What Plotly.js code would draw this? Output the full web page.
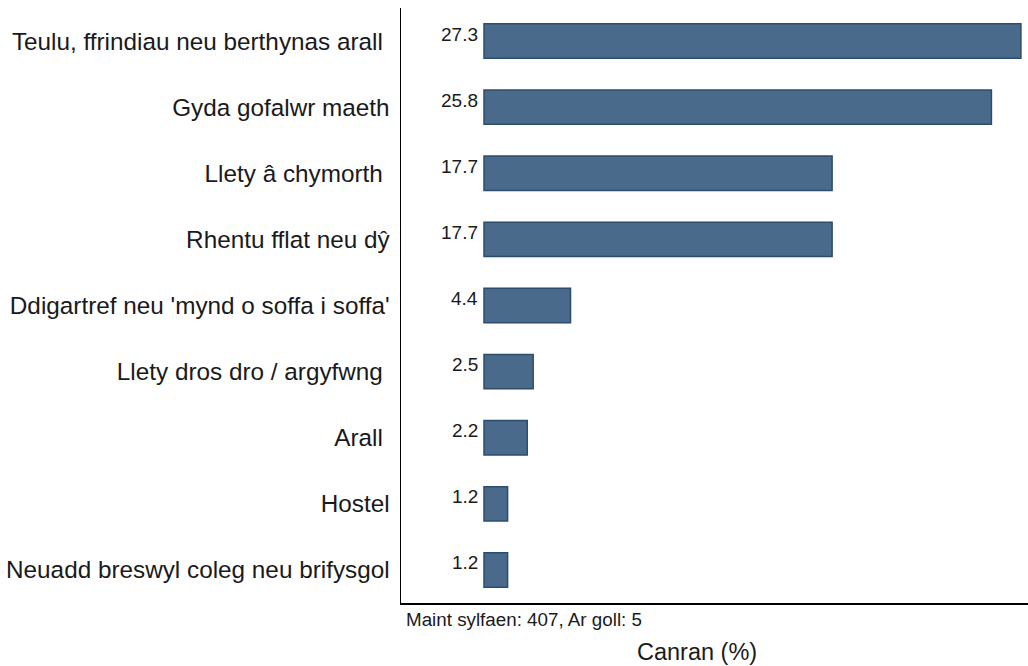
<!DOCTYPE html>
<html>
<head>
<meta charset="utf-8">
<script src="https://cdn.plot.ly/plotly-3.0.1.min.js"></script>
<style>html,body{margin:0;padding:0;background:#fff;}#chart{width:1028px;height:666px;}</style>
</head>
<body>
<div id="chart"></div>
<script>
const categories = [
  "Teulu, ffrindiau neu berthynas arall ",
  "Gyda gofalwr maeth",
  "Llety â chymorth ",
  "Rhentu fflat neu dŷ",
  "Ddigartref neu 'mynd o soffa i soffa'",
  "Llety dros dro / argyfwng ",
  "Arall ",
  "Hostel",
  "Neuadd breswyl coleg neu brifysgol"
];
const values = [27.3, 25.8, 17.7, 17.7, 4.4, 2.5, 2.2, 1.2, 1.2];
const valueLabels = ["27.3", "25.8", "17.7", "17.7", "4.4", "2.5", "2.2", "1.2", "1.2"];
const footnote = "Maint sylfaen: 407, Ar goll: 5";
const xTitle = "Canran (%)";

const FONT = "'Liberation Sans', Arial, sans-serif";

const trace = {
  type: "bar",
  orientation: "h",
  x: values,
  y: categories,
  width: 0.52,
  marker: {color: "#4a6a8c", line: {color: "#2d4d6e", width: 1.5}},
  hoverinfo: "none"
};

const annotations = values.map((v, i) => ({
  x: 0, y: categories[i], xref: "x", yref: "y",
  text: valueLabels[i], showarrow: false,
  xanchor: "right", yanchor: "middle",
  xshift: -4, yshift: 7,
  font: {family: FONT, size: 19, color: "#1a1a1a"}
}));
annotations.push({
  x: 404, y: 620, text: footnote, showarrow: false,
  font: {family: FONT, size: 18.8, color: "#1a1a1a"}, xanchor: "left", yanchor: "middle"
});
annotations.push({
  x: 697, y: 652, text: xTitle, showarrow: false,
  font: {family: FONT, size: 23.5, color: "#1a1a1a"}, xanchor: "center", yanchor: "middle"
});
const W = 1028, H = 666, mL = 401, mR = 0, mT = 8, mB = 63;
const pw = W - mL - mR, ph = H - mT - mB;
for (let k = annotations.length - 2; k < annotations.length; k++) {
  const a = annotations[k];
  a.xref = "paper"; a.yref = "paper";
  a.x = (a.x - mL) / pw;
  a.y = (H - mB - a.y) / ph;
}

const layout = {
  width: W, height: H,
  margin: {l: mL, r: mR, t: mT, b: mB, pad: 0},
  paper_bgcolor: "#fff", plot_bgcolor: "#fff",
  showlegend: false,
  font: {family: FONT, color: "#1a1a1a"},
  xaxis: {
    range: [-4.22, 27.66], showgrid: false, zeroline: false,
    showticklabels: false, ticks: "", showline: true, linecolor: "#000", linewidth: 1.5
  },
  yaxis: {
    type: "category", autorange: "reversed", showgrid: false, zeroline: false,
    ticks: "", ticklabelstandoff: 5, showline: true, linecolor: "#000", linewidth: 1.5,
    tickfont: {family: FONT, size: 24.3, color: "#1a1a1a"}
  },
  annotations: annotations
};

Plotly.newPlot("chart", [trace], layout, {displayModeBar: false, staticPlot: true});
</script>
</body>
</html>
